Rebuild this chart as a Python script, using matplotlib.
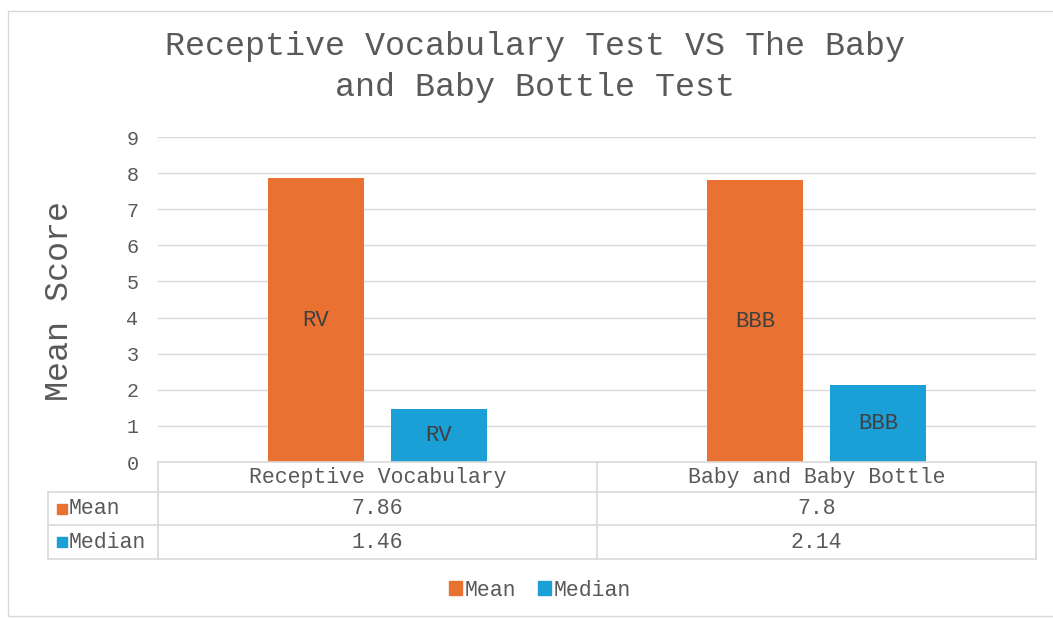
import numpy as np
import matplotlib
matplotlib.use("Agg")
import matplotlib.pyplot as plt
import matplotlib.transforms as mtransforms
from matplotlib.lines import Line2D
from matplotlib.patches import Rectangle

categories = ["Receptive Vocabulary", "Baby and Baby Bottle"]
series_names = ["Mean", "Median"]
mean_vals = [7.86, 7.8]
median_vals = [1.46, 2.14]
mean_txt = ["7.86", "7.8"]
median_txt = ["1.46", "2.14"]
bar_labels = ["RV", "BBB"]

orange = "#E97132"
blue = "#1A9FD6"
grid_c = "#D9D9D9"
txt_c = "#595959"

plt.rcParams["font.family"] = ["Liberation Mono", "DejaVu Sans Mono"]

W, H = 1053, 618
fig = plt.figure(figsize=(W / 100, H / 100), dpi=100)

def fx(x):
    return x / W

def fy(y):
    return 1 - y / H

# outer chart border
fig.add_artist(Rectangle((fx(8), fy(616)), fx(1060) - fx(8), fy(11) - fy(616),
                         transform=fig.transFigure, fill=False, ec=grid_c, lw=1))

ax = fig.add_axes([fx(158), fy(462), fx(1036) - fx(158), fy(137) - fy(462)])
x = np.arange(len(categories))
w = 0.22
off = 0.14
b1 = ax.bar(x - off, mean_vals, w, color=orange, zorder=3)
b2 = ax.bar(x + off, median_vals, w, color=blue, zorder=3)
for bars in (b1, b2):
    for r, lab in zip(bars, bar_labels):
        ax.text(r.get_x() + r.get_width() / 2, r.get_height() / 2, lab,
                ha="center", va="center", fontsize=16, color="#404040", zorder=4)

ax.set_xlim(-0.5, 1.5)
ax.set_ylim(0, 9)
ax.set_yticks(range(10))
ax.yaxis.grid(True, color=grid_c, lw=1)
ax.set_axisbelow(True)
ax.tick_params(axis="y", length=0, labelsize=14.5, labelcolor=txt_c, pad=14)
ax.set_xticks([])
for s in ax.spines.values():
    s.set_visible(False)

fig.text(fx(60), fy(301), "Mean Score", rotation=90, ha="center", va="center",
         fontsize=24, color=txt_c)
fig.text(fx(535), fy(67), "Receptive Vocabulary Test VS The Baby\nand Baby Bottle Test",
         ha="center", va="center", fontsize=24, color=txt_c, linespacing=1.4)

# data table below the axis
def hline(x0, x1, y):
    fig.add_artist(Line2D([fx(x0), fx(x1)], [fy(y), fy(y)], transform=fig.transFigure,
                          color=grid_c, lw=1.2))

def vline(x, y0, y1):
    fig.add_artist(Line2D([fx(x), fx(x)], [fy(y0), fy(y1)], transform=fig.transFigure,
                          color=grid_c, lw=1.2))

hline(158, 1036, 462)
hline(48, 1036, 492)
hline(48, 1036, 525)
hline(48, 1036, 559)
vline(158, 462, 559)
vline(597, 462, 559)
vline(1036, 462, 559)
vline(48, 492, 559)

tr = mtransforms.blended_transform_factory(ax.transData, fig.transFigure)
row_y = [fy(477), fy(509), fy(542)]
for i, cat in enumerate(categories):
    ax.text(i, row_y[0], cat, transform=tr, ha="center", va="center",
            fontsize=15.5, color=txt_c)
    ax.text(i, row_y[1], mean_txt[i], transform=tr, ha="center", va="center",
            fontsize=15.5, color=txt_c)
    ax.text(i, row_y[2], median_txt[i], transform=tr, ha="center", va="center",
            fontsize=15.5, color=txt_c)
for name, col, yy in zip(series_names, [orange, blue], row_y[1:]):
    fig.add_artist(Rectangle((fx(57), yy - 5 / H), 10 / W, 10 / H,
                             transform=fig.transFigure, color=col))
    fig.text(fx(69), yy, name, ha="left", va="center", fontsize=15.5, color=txt_c)

# legend
handles = [Rectangle((0, 0), 1, 1, color=c) for c in [orange, blue]]
fig.legend(handles, series_names, loc="center", bbox_to_anchor=(fx(540), fy(590)),
           ncol=2, frameon=False, fontsize=15.5, labelcolor=txt_c,
           handlelength=0.6, handleheight=0.6, handletextpad=0.15, columnspacing=1.0)

fig.savefig("out.png", dpi=100)
